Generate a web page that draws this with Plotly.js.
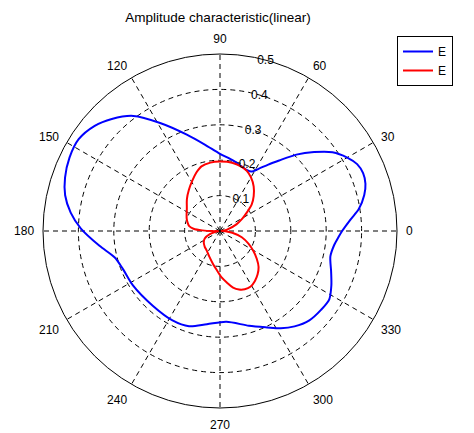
<!DOCTYPE html>
<html>
<head>
<meta charset="utf-8">
<script src="https://cdn.plot.ly/plotly-3.0.1.min.js"></script>
<style>html,body{margin:0;padding:0;background:#fff;}#chart{width:474px;height:433px;}</style>
</head>
<body>
<div id="chart"></div>
<script>
// Blue series (angle in degrees, amplitude)
const blueTheta = [0, 5, 9, 14, 18, 22, 26, 30, 35, 40, 45, 50, 54, 58, 62, 66, 72, 80, 90, 100, 109, 119, 127, 134, 140, 147, 154, 161, 167, 173, 179, 187, 194, 201, 212, 228, 242, 252, 262, 274, 287, 296, 302, 308, 315, 322, 328, 334, 340, 347, 353, 357, 360];
const blueR = [0.345, 0.37, 0.397, 0.42, 0.432, 0.436, 0.431, 0.415, 0.388, 0.347, 0.305, 0.26, 0.232, 0.208, 0.19, 0.188, 0.193, 0.203, 0.218, 0.248, 0.288, 0.349, 0.407, 0.44, 0.462, 0.476, 0.473, 0.463, 0.449, 0.425, 0.393, 0.343, 0.307, 0.295, 0.29, 0.284, 0.286, 0.283, 0.266, 0.257, 0.28, 0.303, 0.324, 0.342, 0.357, 0.362, 0.364, 0.35, 0.334, 0.32, 0.325, 0.335, 0.345];

// Red series
const redTheta = [0, 7, 14, 22, 29, 34, 40, 46, 53, 60, 66, 72, 80, 90, 98, 106, 112, 119, 127, 136, 146, 154, 160, 166, 171, 175, 178, 181, 184, 190, 197, 206, 215, 226, 236, 247, 258, 265, 272, 278, 283, 288, 293, 299, 305, 311, 317, 323, 329, 336, 344, 352, 358, 360];
const redR = [0.004, 0.012, 0.025, 0.05, 0.072, 0.09, 0.117, 0.137, 0.158, 0.175, 0.186, 0.192, 0.196, 0.196, 0.195, 0.19, 0.178, 0.162, 0.146, 0.13, 0.113, 0.105, 0.1, 0.094, 0.088, 0.075, 0.05, 0.02, 0.005, 0.01, 0.03, 0.048, 0.056, 0.062, 0.067, 0.078, 0.095, 0.11, 0.131, 0.148, 0.164, 0.174, 0.179, 0.179, 0.172, 0.162, 0.149, 0.13, 0.11, 0.088, 0.064, 0.035, 0.015, 0.004];

const seriesNames = ['E', 'E'];
const angleTicks = [0, 30, 60, 90, 120, 150, 180, 210, 240, 270, 300, 330];
const angleTickText = ['0', '30', '60', '90', '120', '150', '180', '210', '240', '270', '300', '330'];
const radialTicks = [0.1, 0.2, 0.3, 0.4, 0.5];
const radialTickText = ['0.1', '0.2', '0.3', '0.4', '0.5'];

const FONT = 'Arial, "Liberation Sans", Helvetica, sans-serif';

const traces = [
  {type: 'scatterpolar', mode: 'lines', name: seriesNames[0], theta: blueTheta, r: blueR,
   line: {color: '#0000ff', width: 2, shape: 'spline', smoothing: 0.8}},
  {type: 'scatterpolar', mode: 'lines', name: seriesNames[1], theta: redTheta, r: redR,
   line: {color: '#ff0000', width: 2, shape: 'spline', smoothing: 0.8}}
];

const W = 474, H = 433;
const cx = 220, cy = 231, R = 177;

const layout = {
  width: W, height: H,
  margin: {l: 0, r: 0, t: 0, b: 0},
  paper_bgcolor: '#ffffff',
  font: {family: FONT, size: 12, color: '#000'},
  title: {text: 'Amplitude characteristic(linear)', font: {family: FONT, size: 13.5, color: '#000'},
          x: 218 / W, xanchor: 'center', xref: 'paper', y: 1 - 17 / H, yanchor: 'middle', yref: 'container'},
  showlegend: true,
  legend: {x: 397 / W, y: 1 - 36 / H, xanchor: 'left', yanchor: 'top',
           bordercolor: '#000', borderwidth: 1, bgcolor: '#fff',
           font: {family: FONT, size: 12, color: '#000'}, tracegroupgap: 0},
  polar: {
    domain: {x: [(cx - R) / W, (cx + R) / W], y: [1 - (cy + R) / H, 1 - (cy - R) / H]},
    bgcolor: '#ffffff',
    radialaxis: {range: [0, 0.5], tickmode: 'array', tickvals: radialTicks, ticktext: radialTickText,
                 angle: 80, tickangle: 80, side: 'clockwise', showline: false, ticks: '',
                 showgrid: true, gridcolor: '#000', gridwidth: 1, griddash: '5px,4px',
                 tickfont: {family: FONT, size: 12, color: '#000'}},
    angularaxis: {tickmode: 'array', tickvals: angleTicks, ticktext: angleTickText,
                  rotation: 0, direction: 'counterclockwise',
                  ticks: 'outside', ticklen: 6, tickcolor: 'rgba(0,0,0,0)',
                  showline: true, linecolor: '#000', linewidth: 1,
                  showgrid: true, gridcolor: '#000', gridwidth: 1, griddash: '5px,4px',
                  tickfont: {family: FONT, size: 12, color: '#000'}}
  }
};

Plotly.newPlot('chart', traces, layout, {displayModeBar: false, staticPlot: true});
</script>
</body>
</html>
